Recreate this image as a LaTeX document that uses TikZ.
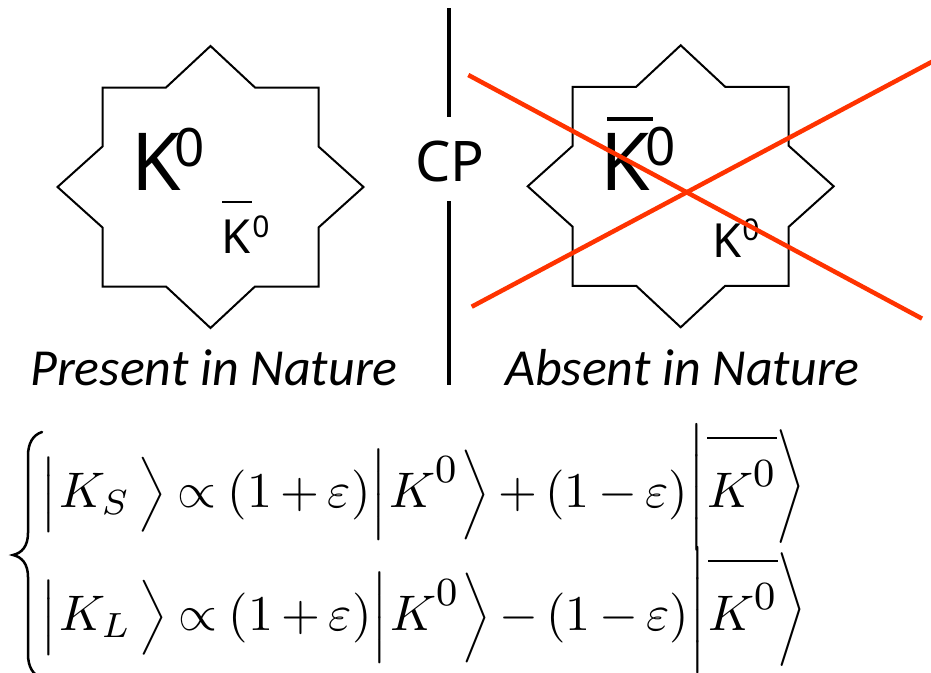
\documentclass[tikz,border=0pt]{standalone}
\usepackage{fontspec}
\usepackage{graphicx}
\newfontfamily\kfont{Noto Sans}
\newfontfamily\labfont{Carlito}
\definecolor{crossred}{RGB}{255,51,0}
\newcommand\lbar[1]{\vcenter{\hbox{\scalebox{1}[#1]{$\bigg|$}\kern-\nulldelimiterspace}}}
\newcommand\rang[1]{\vcenter{\hbox{\kern-\nulldelimiterspace\scalebox{0.75}[#1]{$\bigg\rangle$}}}}
\newcommand\supz{\mbox{\raisebox{1.3pt}{\fontsize{8}{8}\selectfont 0}}}
\newcommand\kbar{\overline{K^{\supz}\vphantom{\rule{0pt}{12.5pt}}}}
\begin{document}
\begin{tikzpicture}[x=1pt,y=-1pt,
  starline/.style={line width=2pt, line join=miter},
  crossline/.style={line width=4.5pt, crossred},
  cpline/.style={line width=4.5pt},
  kbig/.style={font=\kfont\fontsize{80}{80}\selectfont, anchor=base, inner sep=0pt},
  zbig/.style={font=\kfont\fontsize{53}{53}\selectfont, anchor=base, inner sep=0pt},
  ksmall/.style={font=\kfont\fontsize{47}{47}\selectfont, anchor=base, inner sep=0pt},
  zsmall/.style={font=\kfont\fontsize{30}{30}\selectfont, anchor=base, inner sep=0pt},
  cptext/.style={font=\kfont\fontsize{56}{56}\selectfont, anchor=base, inner sep=0pt},
  lab/.style={font=\labfont\itshape\fontsize{52}{52}\selectfont, anchor=base west, inner sep=0pt},
  eqrow/.style={anchor=base west, inner sep=0pt},
  bracestyle/.style={line width=2.5pt, line cap=round}
]
\useasboundingbox (0,0) rectangle (931,672);
\fill[white] (0,0) rectangle (931,672);
\begin{scope}
\clip (0,0) rectangle (931,672);

% left star
\begin{scope}[shift={(210.5,187)}]
\draw[starline] (-108,-99.5) -- (-44.5,-99.5) -- (0,-141) -- (44.5,-99.5) -- (108,-99.5) -- (108,-40.5) -- (153,0) -- (108,40.5) -- (108,99.5) -- (44.5,99.5) -- (0,141) -- (-44.5,99.5) -- (-108,99.5) -- (-108,40.5) -- (-153,0) -- (-108,-40.5) -- cycle;
\end{scope}
% right star
\begin{scope}[shift={(680.7,186.3)}]
\draw[starline] (-108,-99.5) -- (-44.5,-99.5) -- (0,-141) -- (44.5,-99.5) -- (108,-99.5) -- (108,-40.5) -- (153,0) -- (108,40.5) -- (108,99.5) -- (44.5,99.5) -- (0,141) -- (-44.5,99.5) -- (-108,99.5) -- (-108,40.5) -- (-153,0) -- (-108,-40.5) -- cycle;
\end{scope}

% texts in left star
\node[kbig] (kL) at (156,190) {K};
\node[zbig] (zL) at (189.5,166) {0};
\node[ksmall] (kbL) at (236,253) {K};
\node[zsmall] (zbL) at (261,237) {0};
\draw[line width=2.5pt] (222,202) -- (252,202);

% texts in right star
\node[kbig] (kbR) at (625.5,190) {K};
\node[zbig] (zbR) at (661,165) {0};
\draw[line width=3.5pt] (607,119) -- (653,119);
\node[ksmall] (kR) at (727.5,257) {K};
\node[zsmall] (zR) at (751,240) {0};

% CP divider
\coordinate (cpTop1) at (449,8);
\coordinate (cpTop2) at (449,117);
\coordinate (cpBot1) at (449,201);
\coordinate (cpBot2) at (449,385);
\draw[cpline] (cpTop1) -- (cpTop2);
\draw[cpline] (cpBot1) -- (cpBot2);
\node[cptext] (cp) at (450,181) {CP};

% red cross
\coordinate (rA1) at (468.3,75);
\coordinate (rA2) at (922,318.6);
\coordinate (rB1) at (471.7,306.7);
\coordinate (rB2) at (940,57.5);
\draw[crossline] (rA1) -- (rA2);
\draw[crossline] (rB1) -- (rB2);

% labels
\node[lab] (present) at (30,385) {Present in Nature};
\node[lab] (absent) at (505,385) {Absent in Nature};

% brace
\draw[bracestyle] (42,432) .. controls (33,435) and (28,443) .. (28,456) -- (28,533) .. controls (28,546) and (22,553) .. (13,555) .. controls (22,557) and (28,564) .. (28,577) -- (28,654) .. controls (28,667) and (33,675) .. (42,678);

% equations
\node[eqrow] (rowS) at (40,507) {\scalebox{5}{$\medmuskip=3mu\thickmuskip=4mu\lbar{0.625}\mkern3mu K_S \mkern5mu\rang{0.625} \propto (1+\varepsilon)\lbar{0.75}\mkern3mu K^{\supz}\mkern3mu \rang{0.75} + (1-\varepsilon)\raise1.5pt\hbox{$\lbar{1.05}$}\mkern3mu \kbar\mkern2mu \raise1.5pt\hbox{$\rang{0.95}$}$}};
\node[eqrow] (rowL) at (40,630) {\scalebox{5}{$\medmuskip=3mu\thickmuskip=4mu\lbar{0.625}\mkern3mu K_L \mkern5mu\rang{0.625} \propto (1+\varepsilon)\lbar{0.75}\mkern3mu K^{\supz}\mkern3mu \rang{0.75} - (1-\varepsilon)\raise1.5pt\hbox{$\lbar{1.05}$}\mkern3mu \kbar\mkern2mu \raise1.5pt\hbox{$\rang{0.95}$}$}};
\end{scope}
\end{tikzpicture}
\end{document}
